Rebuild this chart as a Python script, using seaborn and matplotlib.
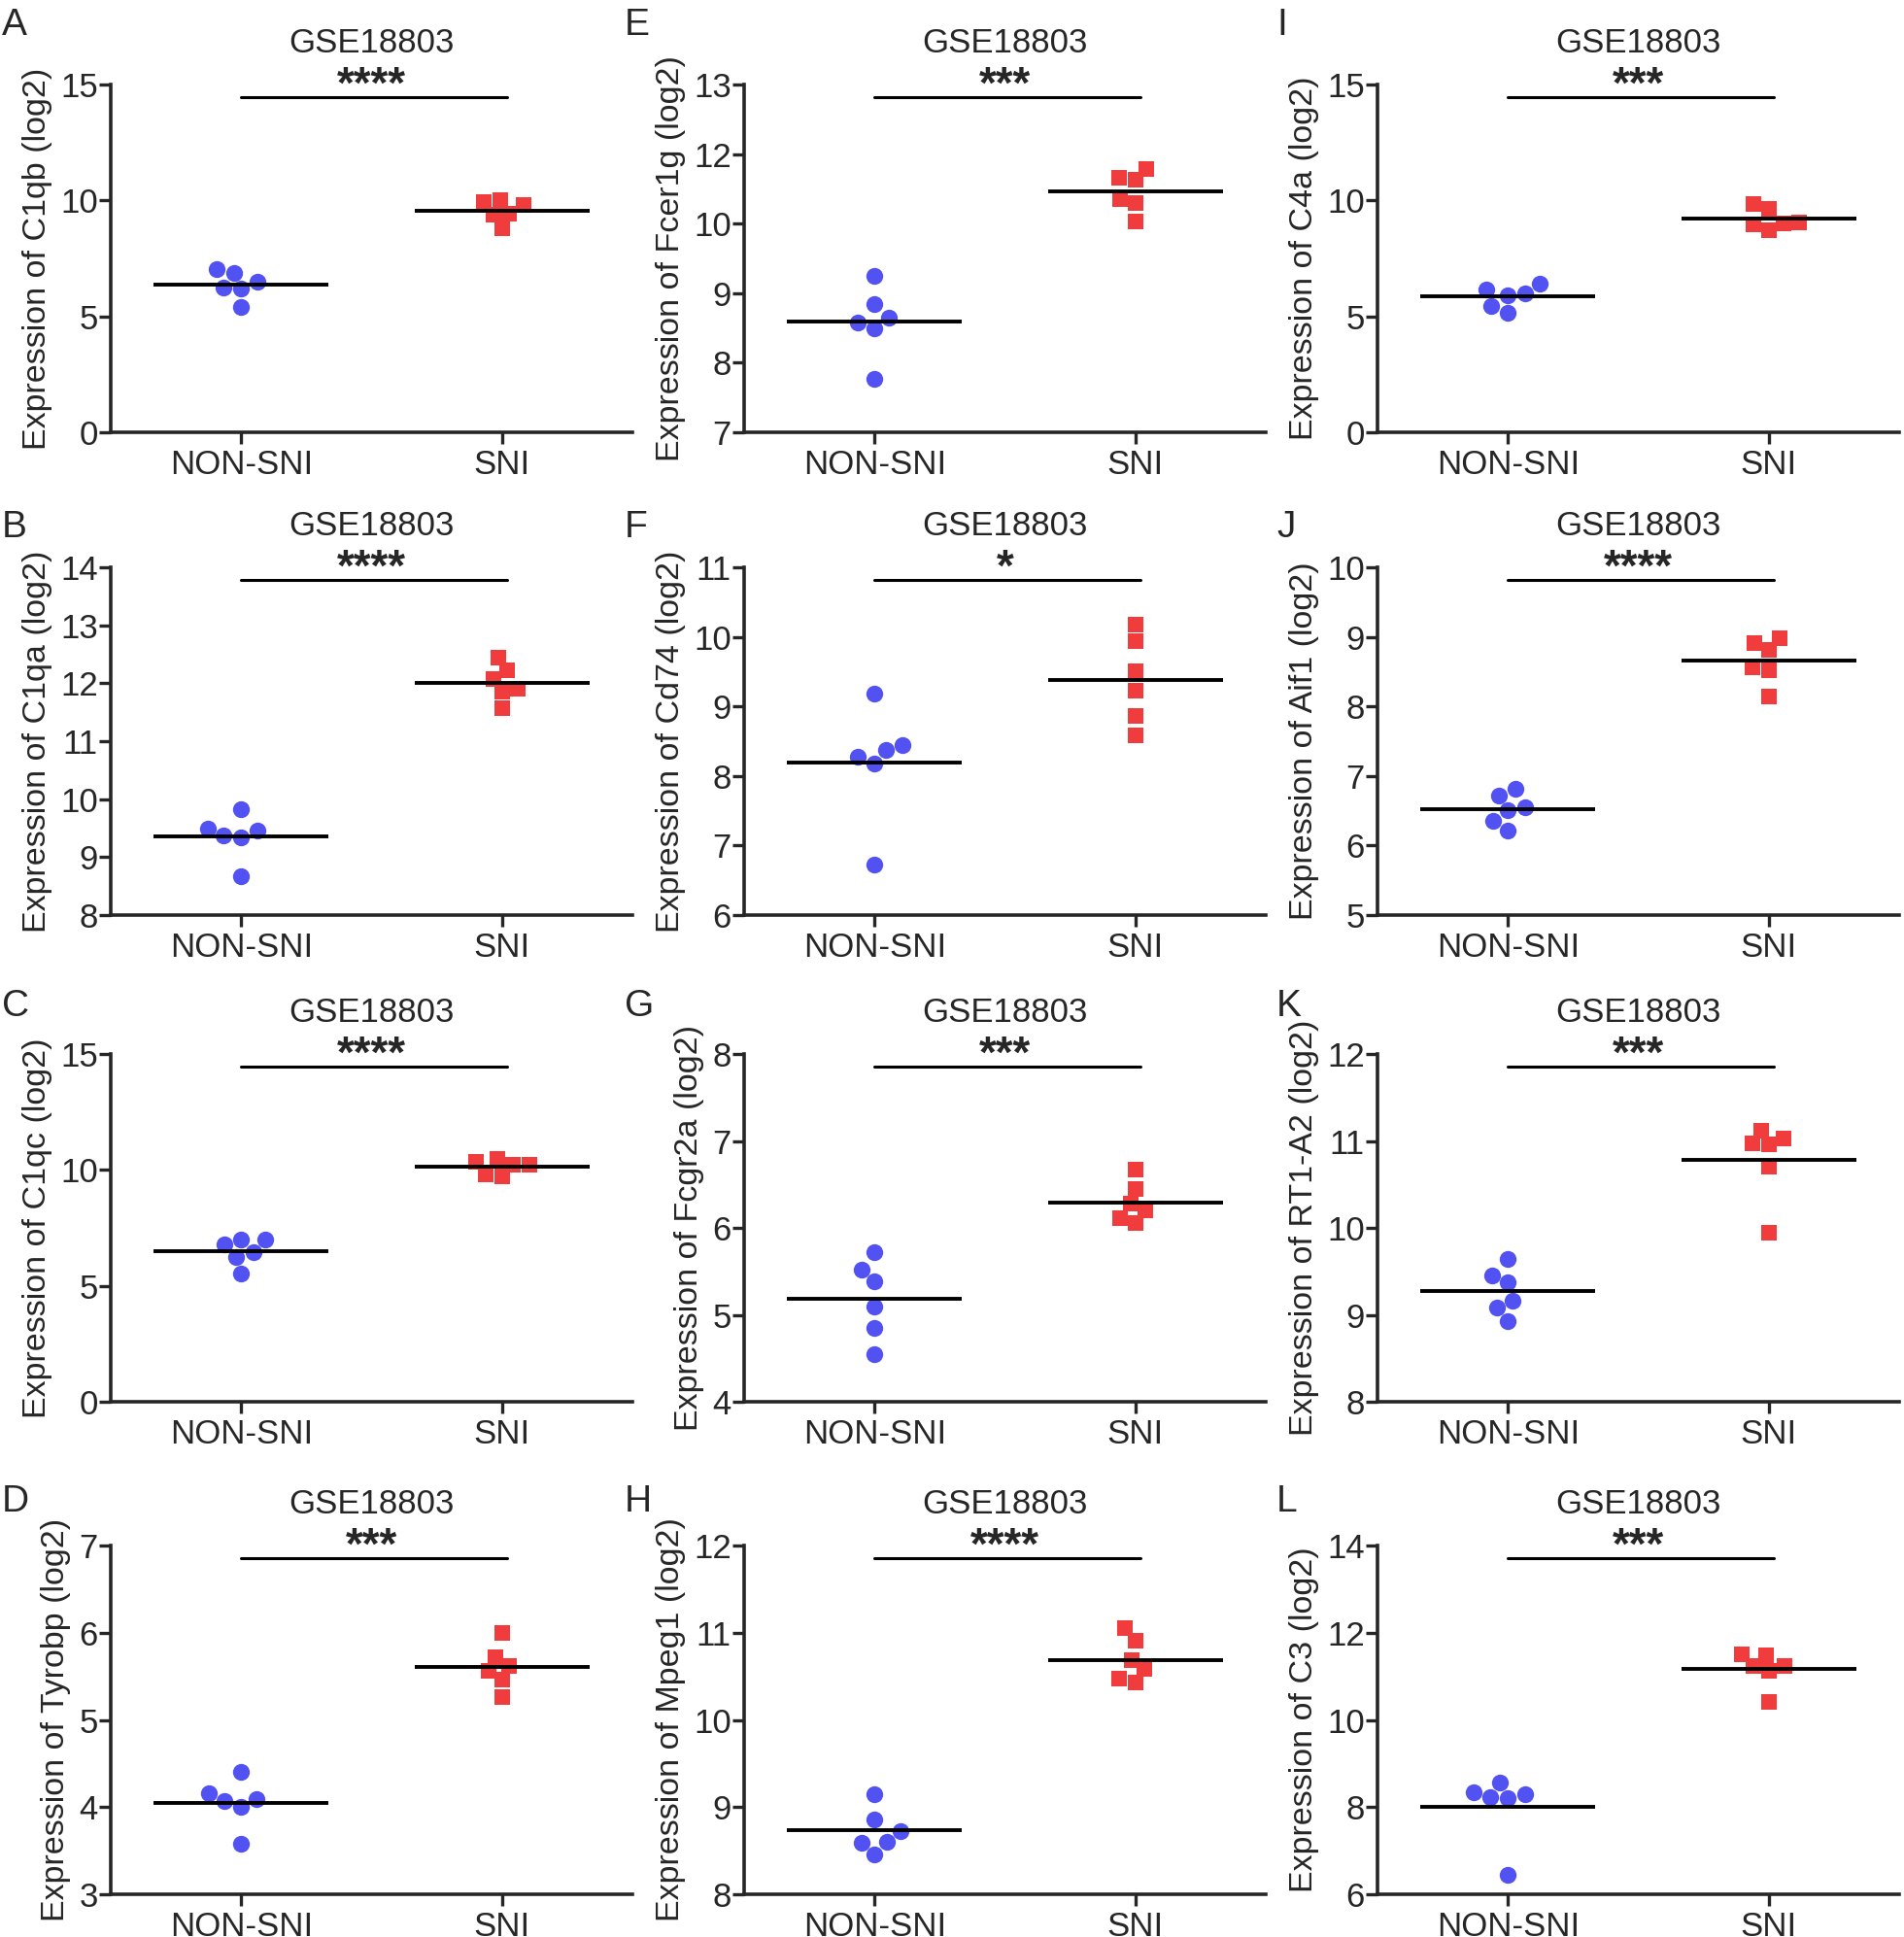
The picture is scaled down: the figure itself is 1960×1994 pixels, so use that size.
import numpy as np
import pandas as pd
import seaborn as sns
import matplotlib.pyplot as plt

groups = ["NON-SNI", "SNI"]
dataset = "GSE18803"

# values (log2 expression), 6 samples per group
c1qb_non = [6.88, 6.25, 6.50, 6.22, 7.03, 5.41]
c1qb_sni = [9.93, 9.44, 9.79, 8.81, 9.37, 10.00]
c1qa_non = [9.50, 9.82, 9.37, 9.34, 9.46, 8.67]
c1qa_sni = [12.44, 12.22, 12.08, 11.91, 11.85, 11.57]
c1qc_non = [6.98, 6.77, 6.24, 6.46, 6.98, 5.54]
c1qc_sni = [10.33, 10.23, 9.74, 9.79, 10.23, 10.46]
tyrobp_non = [4.40, 4.16, 4.07, 4.00, 4.09, 3.58]
tyrobp_sni = [6.00, 5.62, 5.72, 5.56, 5.46, 5.26]
fcer1g_non = [9.69, 9.22, 8.89, 8.80, 8.97, 7.93]
fcer1g_sni = [11.39, 11.35, 11.55, 10.95, 11.02, 10.63]
cd74_non = [9.18, 8.45, 8.27, 8.18, 8.37, 6.73]
cd74_sni = [10.17, 9.94, 9.50, 9.22, 8.86, 8.59]
fcgr2a_non = [5.72, 5.52, 5.39, 5.09, 4.85, 4.55]
fcgr2a_sni = [6.67, 6.45, 6.28, 6.20, 6.11, 6.06]
mpeg1_non = [9.15, 8.86, 8.72, 8.60, 8.59, 8.46]
mpeg1_sni = [11.05, 10.91, 10.69, 10.58, 10.43, 10.47]
c4a_non = [6.43, 5.92, 6.15, 5.98, 5.45, 5.17]
c4a_sni = [9.83, 9.65, 9.02, 9.06, 8.95, 8.71]
aif1_non = [6.82, 6.72, 6.55, 6.51, 6.35, 6.22]
aif1_sni = [8.98, 8.91, 8.81, 8.56, 8.52, 8.14]
rt1a2_non = [9.64, 9.45, 9.37, 9.16, 9.08, 8.93]
rt1a2_sni = [11.12, 11.03, 10.96, 10.97, 10.70, 9.94]
c3_non = [8.56, 8.34, 8.30, 8.23, 8.21, 6.45]
c3_sni = [11.50, 11.48, 11.24, 11.24, 11.13, 10.41]

letters = ["A", "B", "C", "D", "E", "F", "G", "H", "I", "J", "K", "L"]
genes = ["C1qb", "C1qa", "C1qc", "Tyrobp", "Fcer1g", "Cd74",
         "Fcgr2a", "Mpeg1", "C4a", "Aif1", "RT1-A2", "C3"]
non_vals = [c1qb_non, c1qa_non, c1qc_non, tyrobp_non, fcer1g_non, cd74_non,
            fcgr2a_non, mpeg1_non, c4a_non, aif1_non, rt1a2_non, c3_non]
sni_vals = [c1qb_sni, c1qa_sni, c1qc_sni, tyrobp_sni, fcer1g_sni, cd74_sni,
            fcgr2a_sni, mpeg1_sni, c4a_sni, aif1_sni, rt1a2_sni, c3_sni]
stars = ["****", "****", "****", "***", "***", "*",
         "***", "****", "***", "****", "***", "***"]
yticks = [[0, 5, 10, 15], [8, 9, 10, 11, 12, 13, 14], [0, 5, 10, 15], [3, 4, 5, 6, 7],
          [7, 8.2, 9.4, 10.6, 11.8, 13], [6, 7, 8, 9, 10, 11], [4, 5, 6, 7, 8], [8, 9, 10, 11, 12],
          [0, 5, 10, 15], [5, 6, 7, 8, 9, 10], [8, 9, 10, 11, 12], [6, 8, 10, 12, 14]]
yticklabels_e = ["7", "8", "9", "10", "12", "13"]

# layout in pixels of the 1960x1994 canvas
W, H = 1960, 1994
col_left = [114, 766, 1418]
col_width = 537
row_top = [87, 584, 1085, 1591]
row_bottom = [445, 942, 1443, 1950]
letter_x = [2, 643, 1314]
letter_top = [8, 525, 1018, 1528]

blue = "#5252F2"
red = "#F03C3C"

sns.set_style("ticks")
plt.rcParams["font.family"] = ["Liberation Sans", "DejaVu Sans"]

fig = plt.figure(figsize=(W / 100, H / 100), dpi=100)

for k in range(12):
    c, r = k // 4, k % 4
    ax = fig.add_axes([col_left[c] / W, 1 - row_bottom[r] / H,
                       col_width / W, (row_bottom[r] - row_top[r]) / H])
    df = pd.DataFrame({"group": [groups[0]] * len(non_vals[k]) + [groups[1]] * len(sni_vals[k]),
                       "value": non_vals[k] + sni_vals[k]})
    sns.swarmplot(data=df[df.group == groups[0]], x="group", y="value", order=groups,
                  color=blue, marker="o", size=12.5, linewidth=0, ax=ax)
    sns.swarmplot(data=df[df.group == groups[1]], x="group", y="value", order=groups,
                  color=red, marker="s", size=11.5, linewidth=0, ax=ax)
    means = df.groupby("group")["value"].mean()
    for i, g in enumerate(groups):
        ax.hlines(means[g], i - 0.335, i + 0.335, color="black", lw=2.8, zorder=3)

    ax.set_xlim(-0.5, 1.5)
    ax.set_ylim(yticks[k][0], yticks[k][-1])
    ax.set_yticks(yticks[k])
    if genes[k] == "Fcer1g":
        ax.set_yticklabels(yticklabels_e)
    else:
        ax.set_yticklabels([str(t) for t in yticks[k]])
    ax.set_xlabel("")
    ax.set_ylabel(f"Expression of {genes[k]} (log2)", fontsize=24.5, labelpad=6)
    ax.set_title(dataset, fontsize=25, pad=24)

    # significance bar
    tr = ax.get_xaxis_transform()
    ax.plot([0, 1.02], [0.963, 0.963], color="black", lw=2.2, transform=tr, clip_on=False)
    ax.text(0.5, 0.962, stars[k], transform=tr, ha="center", va="baseline",
            fontsize=33, fontweight="bold")

    sns.despine(ax=ax)
    for s in ["left", "bottom"]:
        ax.spines[s].set_linewidth(2.6)
    ax.tick_params(axis="y", length=8.5, width=2.4, labelsize=25, pad=1)
    ax.tick_params(axis="x", length=8.5, width=2.4, labelsize=25, pad=4)

    fig.text(letter_x[c] / W, 1 - letter_top[r] / H, letters[k], fontsize=28,
             ha="left", va="top")

fig.savefig("out.png", dpi=100)
